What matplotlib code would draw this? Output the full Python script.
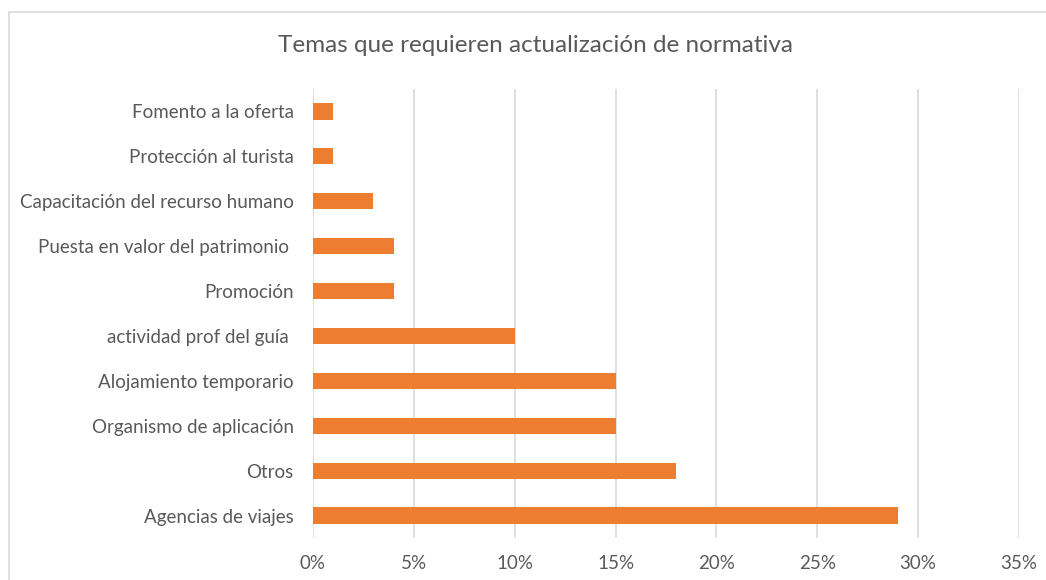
import matplotlib
matplotlib.use("Agg")
import matplotlib.pyplot as plt
from matplotlib.patches import Rectangle
from matplotlib.ticker import FuncFormatter

# Data (bottom to top as drawn)
temas = [
    "Agencias de viajes", "Otros", "Organismo de aplicación",
    "Alojamiento temporario", "actividad prof del guía ", "Promoción",
    "Puesta en valor del patrimonio ", "Capacitación del recurso humano",
    "Protección al turista", "Fomento a la oferta",
]
porcentajes = [29, 18, 15, 15, 10, 4, 4, 3, 1, 1]
ticks_x = [0, 5, 10, 15, 20, 25, 30, 35]

plt.rcParams['font.family'] = ['Lato', 'DejaVu Sans']
gris_texto = "#595959"
naranja = "#ED7D31"

fig = plt.figure(figsize=(10.46, 5.80), dpi=100)
ax = fig.add_axes([0.2992, 0.0724, 0.6750, 0.7742])

# Chart frame (runs off the right and bottom edges)
fig.patches.append(Rectangle((9, -100), 1200, 668, transform=None, fill=False,
                             edgecolor="#D9D9D9", linewidth=1.2))

ax.barh(range(len(temas)), porcentajes, height=0.36, color=naranja, zorder=3)

ax.set_xlim(0, 35)
ax.set_ylim(-0.5, len(temas) - 0.5)
ax.set_xticks(ticks_x)
ax.xaxis.set_major_formatter(FuncFormatter(lambda v, p: f"{v:.0f}%"))
ax.set_yticks(range(len(temas)))
ax.set_yticklabels(temas)
ax.grid(axis='x', color="#D9D9D9", linewidth=1.2, zorder=0)
ax.tick_params(axis='both', length=0, labelsize=13.5, colors=gris_texto)
ax.tick_params(axis='x', pad=12)
ax.tick_params(axis='y', pad=14)
for s in ax.spines.values():
    s.set_visible(False)

fig.text(0.512, 0.921, "Temas que requieren actualización de normativa",
         ha='center', va='center', fontsize=17.5, color=gris_texto)

fig.savefig("out.png", dpi=100)
